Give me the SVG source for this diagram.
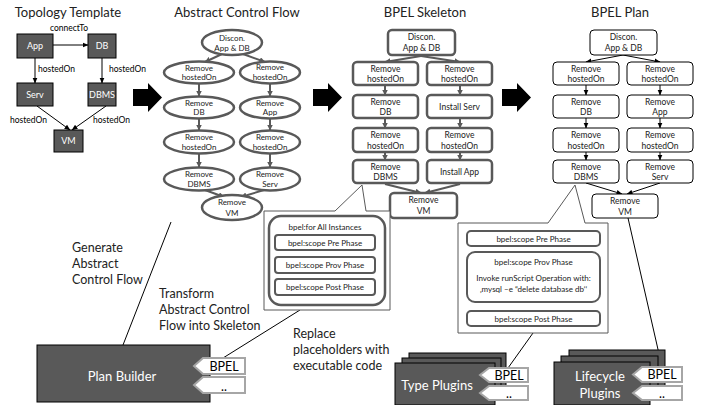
<svg xmlns="http://www.w3.org/2000/svg" width="720" height="405" viewBox="0 0 720 405">
<defs>
<marker id="ab" markerWidth="6" markerHeight="6" refX="5.5" refY="3" orient="auto" markerUnits="userSpaceOnUse"><path d="M0,0.5 L6,3 L0,5.5 z" fill="#000"/></marker>
<marker id="ag" markerWidth="6" markerHeight="6" refX="5.5" refY="3" orient="auto" markerUnits="userSpaceOnUse"><path d="M0,0 L6,3 L0,6 z" fill="#595959"/></marker>
<style>
text{font-family:Lato,"Liberation Sans",sans-serif}
.tn{fill:#595959;stroke:#000;stroke-width:1}
.tt{font-size:9px;fill:#fff;text-anchor:middle}
.lb{font-size:8.5px;fill:#000}
.el{fill:#fff;stroke:#595959;stroke-width:2.5}
.nt{font-size:8.5px;fill:#222;text-anchor:middle}
.et{font-size:8px;fill:#222;text-anchor:middle}
.sk{fill:#fff;stroke:#595959;stroke-width:2.5}
.pl{fill:#fff;stroke:#000;stroke-width:1}
.ttl{font-size:13px;fill:#222;text-anchor:middle}
.big{font-size:12.5px;fill:#222}
.ln{stroke:#000;stroke-width:1;fill:none}
.ga{stroke:#595959;stroke-width:2;fill:none;marker-end:url(#ag)}
.ba{stroke:#000;stroke-width:1;fill:none;marker-end:url(#ab)}
.blk{fill:#000}
.tag{fill:#fff;stroke:#a6a6a6;stroke-width:2}
.tgt{font-size:12.5px;fill:#000;text-anchor:middle}
.wt{font-size:13px;fill:#fff;text-anchor:middle}
.sc{fill:#fff;stroke:#595959;stroke-width:2}
.st{font-size:8px;fill:#222;text-anchor:middle}
</style>
</defs>

<!-- titles -->
<text class="ttl" x="68" y="17">Topology Template</text>
<text class="ttl" x="237" y="17">Abstract Control Flow</text>
<text class="ttl" x="425" y="17">BPEL Skeleton</text>
<text class="ttl" x="620" y="17">BPEL Plan</text>

<!-- connectors -->
<g id="connectors">
  <line class="ba" x1="53" y1="45" x2="88" y2="45"/>
  <line class="ba" x1="35" y1="58" x2="35" y2="83"/>
  <line class="ba" x1="102" y1="58" x2="102" y2="83"/>
  <line class="ba" x1="37" y1="106" x2="70" y2="130"/>
  <line class="ba" x1="106" y1="106" x2="72" y2="130"/>
  <line class="ga" x1="222" y1="54" x2="205" y2="62"/>
  <line class="ga" x1="243" y1="54" x2="265" y2="62"/>
  <line class="ga" x1="199" y1="84" x2="199" y2="96"/>
  <line class="ga" x1="270" y1="84" x2="270" y2="96"/>
  <line class="ga" x1="199" y1="119" x2="199" y2="130"/>
  <line class="ga" x1="270" y1="119" x2="270" y2="130"/>
  <line class="ga" x1="199" y1="154" x2="199" y2="167"/>
  <line class="ga" x1="270" y1="154" x2="270" y2="167"/>
  <line class="ga" x1="205" y1="190" x2="224" y2="197"/>
  <line class="ga" x1="264" y1="190" x2="241" y2="197"/>
  <line class="ga" x1="421" y1="56" x2="385" y2="62"/>
  <line class="ga" x1="421" y1="56" x2="460" y2="62"/>
  <line class="ga" x1="385" y1="86" x2="385" y2="95"/>
  <line class="ga" x1="460" y1="86" x2="460" y2="95"/>
  <line class="ga" x1="385" y1="119" x2="385" y2="128"/>
  <line class="ga" x1="460" y1="119" x2="460" y2="128"/>
  <line class="ga" x1="385" y1="153" x2="385" y2="160"/>
  <line class="ga" x1="460" y1="153" x2="460" y2="160"/>
  <line class="ga" x1="385" y1="184" x2="421" y2="193"/>
  <line class="ga" x1="460" y1="184" x2="425" y2="193"/>
  <line class="ba" x1="623" y1="55" x2="586" y2="62"/>
  <line class="ba" x1="623" y1="55" x2="660" y2="62"/>
  <line class="ba" x1="586" y1="85" x2="586" y2="95"/>
  <line class="ba" x1="660" y1="85" x2="660" y2="95"/>
  <line class="ba" x1="586" y1="118" x2="586" y2="128"/>
  <line class="ba" x1="660" y1="118" x2="660" y2="128"/>
  <line class="ba" x1="586" y1="152" x2="586" y2="160"/>
  <line class="ba" x1="660" y1="152" x2="660" y2="160"/>
  <line class="ba" x1="586" y1="183" x2="622" y2="194"/>
  <line class="ba" x1="660" y1="183" x2="627" y2="194"/>
  <line class="ln" x1="171" y1="222" x2="123" y2="345"/>
  <line class="ln" x1="300" y1="310" x2="223" y2="358"/>
  <line class="ln" x1="533" y1="333" x2="508" y2="368"/>
  <line class="ln" x1="628" y1="218" x2="662" y2="367"/>
</g>

<!-- edge labels -->
<text class="lb" x="69" y="31" text-anchor="middle">connectTo</text>
<text class="lb" x="38" y="72">hostedOn</text>
<text class="lb" x="109" y="72">hostedOn</text>
<text class="lb" x="10" y="123">hostedOn</text>
<text class="lb" x="93" y="123">hostedOn</text>

<!-- topology nodes -->
<g id="t-app"><rect class="tn" x="17" y="34" width="36" height="24"/><text class="tt" x="35" y="49">App</text></g>
<g id="t-db"><rect class="tn" x="88" y="34" width="28" height="24"/><text class="tt" x="102" y="49">DB</text></g>
<g id="t-serv"><rect class="tn" x="17" y="83" width="36" height="23"/><text class="tt" x="35" y="97.5">Serv</text></g>
<g id="t-dbms"><rect class="tn" x="88" y="83" width="28" height="23"/><text class="tt" x="102" y="97.5">DBMS</text></g>
<g id="t-vm"><rect class="tn" x="54" y="130" width="29" height="22"/><text class="tt" x="68.5" y="144">VM</text></g>

<!-- big arrows -->
<g id="arrow1"><polygon class="blk" points="133,89 148,89 148,83 162,97.5 148,112 148,106 133,106"/></g>
<g id="arrow2"><polygon class="blk" points="313,89 328,89 328,83 342,97.5 328,112 328,106 313,106"/></g>
<g id="arrow3"><polygon class="blk" points="502,89 517,89 517,83 531,97.5 517,112 517,106 502,106"/></g>

<!-- abstract control flow -->
<g id="a-discon"><ellipse class="el" cx="232" cy="42.5" rx="30" ry="12.5"/><text class="et" x="232" y="41">Discon.</text><text class="et" x="232" y="51">App &amp; DB</text></g>
<g id="a-l1"><ellipse class="el" cx="199" cy="72.5" rx="35" ry="11"/><text class="et" x="199" y="70.5">Remove</text><text class="et" x="199" y="80">hostedOn</text></g>
<g id="a-r1"><ellipse class="el" cx="270" cy="72.5" rx="30" ry="11"/><text class="et" x="270" y="70">Remove</text><text class="et" x="270" y="79.5">hostedOn</text></g>
<g id="a-l2"><ellipse class="el" cx="199" cy="107.5" rx="35" ry="11"/><text class="et" x="199" y="105.5">Remove</text><text class="et" x="199" y="115">DB</text></g>
<g id="a-r2"><ellipse class="el" cx="270" cy="107.5" rx="30" ry="11"/><text class="et" x="270" y="105.5">Remove</text><text class="et" x="270" y="115">App</text></g>
<g id="a-l3"><ellipse class="el" cx="199" cy="142" rx="35" ry="11.5"/><text class="et" x="199" y="139.5">Remove</text><text class="et" x="199" y="149.5">hostedOn</text></g>
<g id="a-r3"><ellipse class="el" cx="270" cy="142" rx="30" ry="11.5"/><text class="et" x="270" y="139.5">Remove</text><text class="et" x="270" y="149.5">hostedOn</text></g>
<g id="a-l4"><ellipse class="el" cx="199" cy="179" rx="35" ry="11.5"/><text class="et" x="199" y="176.5">Remove</text><text class="et" x="199" y="186.5">DBMS</text></g>
<g id="a-r4"><ellipse class="el" cx="270" cy="179" rx="30" ry="11.5"/><text class="et" x="270" y="176.5">Remove</text><text class="et" x="270" y="186.5">Serv</text></g>
<g id="a-vm"><ellipse class="el" cx="232" cy="207.5" rx="30" ry="12.5"/><text class="et" x="232" y="205">Remove</text><text class="et" x="232" y="215.5">VM</text></g>

<!-- BPEL skeleton -->
<g id="s-discon"><rect class="sk" x="388" y="30" width="67" height="25" rx="4"/><text class="nt" x="421.5" y="40">Discon.</text><text class="nt" x="421.5" y="51">App &amp; DB</text></g>
<g id="s-l1"><rect class="sk" x="353" y="62" width="65" height="23" rx="4"/><text class="nt" x="385.5" y="72">Remove</text><text class="nt" x="385.5" y="82">hostedOn</text></g>
<g id="s-r1"><rect class="sk" x="427" y="62" width="65" height="23" rx="4"/><text class="nt" x="459.5" y="72">Remove</text><text class="nt" x="459.5" y="82">hostedOn</text></g>
<g id="s-l2"><rect class="sk" x="353" y="95" width="65" height="23" rx="4"/><text class="nt" x="385.5" y="105">Remove</text><text class="nt" x="385.5" y="115">DB</text></g>
<g id="s-r2"><rect class="sk" x="427" y="95" width="65" height="23" rx="4"/><text class="nt" x="459.5" y="110">Install Serv</text></g>
<g id="s-l3"><rect class="sk" x="353" y="128" width="65" height="24" rx="4"/><text class="nt" x="385.5" y="138">Remove</text><text class="nt" x="385.5" y="149">hostedOn</text></g>
<g id="s-r3"><rect class="sk" x="427" y="128" width="65" height="24" rx="4"/><text class="nt" x="459.5" y="138">Remove</text><text class="nt" x="459.5" y="149">hostedOn</text></g>
<g id="s-l4"><rect class="sk" x="353" y="160" width="65" height="23" rx="4"/><text class="nt" x="385.5" y="170">Remove</text><text class="nt" x="385.5" y="180">DBMS</text></g>
<g id="s-r4"><rect class="sk" x="427" y="160" width="65" height="23" rx="4"/><text class="nt" x="459.5" y="175">Install App</text></g>
<g id="s-vm"><rect class="sk" x="390" y="193" width="67" height="25" rx="4"/><text class="nt" x="423.5" y="203">Remove</text><text class="nt" x="423.5" y="214">VM</text></g>

<!-- BPEL plan -->
<g id="p-discon"><rect class="pl" x="590" y="30" width="67" height="25" rx="4"/><text class="nt" x="623.5" y="40">Discon.</text><text class="nt" x="623.5" y="51">App &amp; DB</text></g>
<g id="p-l1"><rect class="pl" x="553" y="62" width="66" height="23" rx="4"/><text class="nt" x="586" y="72">Remove</text><text class="nt" x="586" y="82">hostedOn</text></g>
<g id="p-r1"><rect class="pl" x="627" y="62" width="66" height="23" rx="4"/><text class="nt" x="660" y="72">Remove</text><text class="nt" x="660" y="82">hostedOn</text></g>
<g id="p-l2"><rect class="pl" x="553" y="95" width="66" height="23" rx="4"/><text class="nt" x="586" y="105">Remove</text><text class="nt" x="586" y="115">DB</text></g>
<g id="p-r2"><rect class="pl" x="627" y="95" width="66" height="23" rx="4"/><text class="nt" x="660" y="105">Remove</text><text class="nt" x="660" y="115">App</text></g>
<g id="p-l3"><rect class="pl" x="553" y="128" width="66" height="24" rx="4"/><text class="nt" x="586" y="138">Remove</text><text class="nt" x="586" y="149">hostedOn</text></g>
<g id="p-r3"><rect class="pl" x="627" y="128" width="66" height="24" rx="4"/><text class="nt" x="660" y="138">Remove</text><text class="nt" x="660" y="149">hostedOn</text></g>
<g id="p-l4"><rect class="pl" x="553" y="160" width="66" height="23" rx="4"/><text class="nt" x="586" y="170">Remove</text><text class="nt" x="586" y="180">DBMS</text></g>
<g id="p-r4"><rect class="pl" x="627" y="160" width="66" height="23" rx="4"/><text class="nt" x="660" y="170">Remove</text><text class="nt" x="660" y="180">Serv</text></g>
<g id="p-vm"><rect class="pl" x="592" y="194" width="66" height="24" rx="4"/><text class="nt" x="625" y="204">Remove</text><text class="nt" x="625" y="215">VM</text></g>

<!-- skeleton callout -->
<g id="callout-skeleton">
  <path d="M264,211 L335,211 L362,185 L366,211 L390,211 L390,310 L264,310 Z" fill="#fff" stroke="#595959" stroke-width="1"/>
  <rect x="269" y="216" width="116" height="89" rx="12" fill="#fff" stroke="#595959" stroke-width="2.5"/>
  <text class="st" x="325" y="230">bpel:for All Instances</text>
  <rect class="sc" x="275" y="235" width="100" height="15" rx="3"/>
  <text class="st" x="325" y="245.5">bpel:scope Pre Phase</text>
  <rect class="sc" x="275" y="257" width="100" height="16" rx="3"/>
  <text class="st" x="325" y="268">bpel:scope Prov Phase</text>
  <rect class="sc" x="275" y="279" width="100" height="16" rx="3"/>
  <text class="st" x="325" y="290">bpel:scope Post Phase</text>
</g>

<!-- plan callout -->
<g id="callout-plan">
  <path d="M458,223 L548,223 L575,185 L585,223 L608,223 L608,333 L458,333 Z" fill="#fff" stroke="#595959" stroke-width="1"/>
  <rect class="sc" x="467" y="231" width="133" height="15" rx="4"/>
  <text class="st" x="533.5" y="241.5">bpel:scope Pre Phase</text>
  <rect class="sc" x="467" y="252" width="133" height="50" rx="8"/>
  <text class="st" x="533.5" y="265">bpel:scope Prov Phase</text>
  <text class="st" x="533.5" y="281">Invoke runScript Operation with:</text>
  <text class="st" x="533.5" y="292">‚mysql –e “delete database db‘‘</text>
  <rect class="sc" x="467" y="311" width="133" height="15" rx="4"/>
  <text class="st" x="533.5" y="321.5">bpel:scope Post Phase</text>
</g>

<!-- step labels -->
<text class="big" x="72" y="252">Generate</text>
<text class="big" x="72" y="268">Abstract</text>
<text class="big" x="72" y="284">Control Flow</text>
<text class="big" x="159" y="298">Transform</text>
<text class="big" x="159" y="314">Abstract Control</text>
<text class="big" x="159" y="330">Flow into Skeleton</text>
<text class="big" x="293" y="338">Replace</text>
<text class="big" x="293" y="354">placeholders with</text>
<text class="big" x="293" y="370">executable code</text>

<!-- plan builder -->
<g id="plan-builder">
  <rect class="tn" x="37" y="345" width="173" height="57"/>
  <text class="wt" x="122" y="381">Plan Builder</text>
  <polygon class="tag" points="194,366 203,358 245,358 245,374 203,374"/>
  <text class="tgt" x="224" y="371">BPEL</text>
  <polygon class="tag" points="194,385 203,377 245,377 245,393 203,393"/>
  <text class="tgt" x="224" y="391">..</text>
</g>

<!-- type plugins -->
<g id="type-plugins">
  <rect class="tn" x="409" y="353" width="97" height="42"/>
  <rect class="tn" x="402" y="358" width="99" height="42"/>
  <rect class="tn" x="395" y="363" width="100" height="42"/>
  <text class="wt" x="437" y="390">Type Plugins</text>
  <polygon class="tag" points="480,375 489,368 528,368 528,382 489,382"/>
  <text class="tgt" x="509" y="380">BPEL</text>
  <polygon class="tag" points="480,393 489,386 528,386 528,400 489,400"/>
  <text class="tgt" x="509" y="398">..</text>
</g>

<!-- lifecycle plugins -->
<g id="lifecycle-plugins">
  <rect class="tn" x="569" y="350" width="96" height="42"/>
  <rect class="tn" x="561" y="356" width="97" height="43"/>
  <rect class="tn" x="554" y="362" width="96" height="43"/>
  <text class="wt" x="600" y="381">Lifecycle</text>
  <text class="wt" x="600" y="398">Plugins</text>
  <polygon class="tag" points="633,374.5 642,367 682,367 682,382 642,382"/>
  <text class="tgt" x="662" y="379">BPEL</text>
  <polygon class="tag" points="633,393 642,386 682,386 682,400 642,400"/>
  <text class="tgt" x="662" y="398">..</text>
</g>
</svg>
